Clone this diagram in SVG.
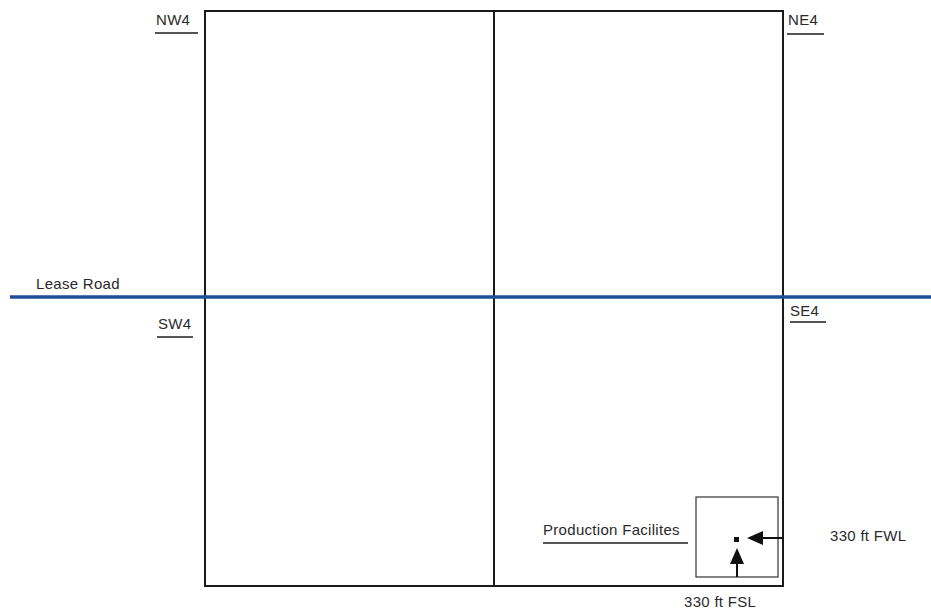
<svg xmlns="http://www.w3.org/2000/svg" width="931" height="613" viewBox="0 0 931 613">
<defs>
<style>
.t{font-family:"Liberation Sans",Arial,sans-serif;font-size:15px;letter-spacing:0.3px;fill:#2a2a2a}
.ln{stroke:#1a1a1a;stroke-width:2;fill:none}
.ul{stroke:#555;stroke-width:2}
.thin{stroke:#333;stroke-width:1.2;fill:none}
</style>
</defs>
<rect width="931" height="613" fill="#fff"/>
<g id="section">
<rect class="ln" x="205" y="11" width="578" height="575"/>
<line class="ln" x1="494" y1="11" x2="494" y2="586"/>
</g>
<g id="lease-road">
<line x1="10" y1="297" x2="931" y2="297" stroke="#1f4f99" stroke-width="3.5"/>
<text class="t" x="36" y="289">Lease Road</text>
</g>
<g id="nw4"><text class="t" x="156" y="25">NW4</text><line class="ul" x1="155" y1="33" x2="198" y2="33"/></g>
<g id="ne4"><text class="t" x="788" y="25">NE4</text><line class="ul" x1="787" y1="34" x2="824" y2="34"/></g>
<g id="sw4"><text class="t" x="158" y="329">SW4</text><line class="ul" x1="157" y1="337" x2="193" y2="337"/></g>
<g id="se4"><text class="t" x="790" y="316">SE4</text><line class="ul" x1="790" y1="322" x2="826" y2="322"/></g>
<g id="production-facilities">
<rect class="thin" x="696" y="497" width="82" height="80"/>
<rect x="734" y="537" width="5" height="5" fill="#111"/>
<text class="t" x="543" y="535">Production Facilites</text>
<line class="ul" x1="543" y1="543" x2="688" y2="543"/>
</g>
<g id="fwl-label"><text class="t" x="830" y="541">330 ft FWL</text></g>
<g id="fsl-label"><text class="t" x="684" y="607">330 ft FSL</text></g>
<g id="connectors">
<line x1="783" y1="538" x2="762" y2="538" stroke="#111" stroke-width="2"/>
<path d="M747,538 L763,531 L763,545 Z" fill="#111"/>
<line x1="737" y1="577" x2="737" y2="563" stroke="#111" stroke-width="2"/>
<path d="M737,548 L730,564 L744,564 Z" fill="#111"/>
</g>
</svg>
